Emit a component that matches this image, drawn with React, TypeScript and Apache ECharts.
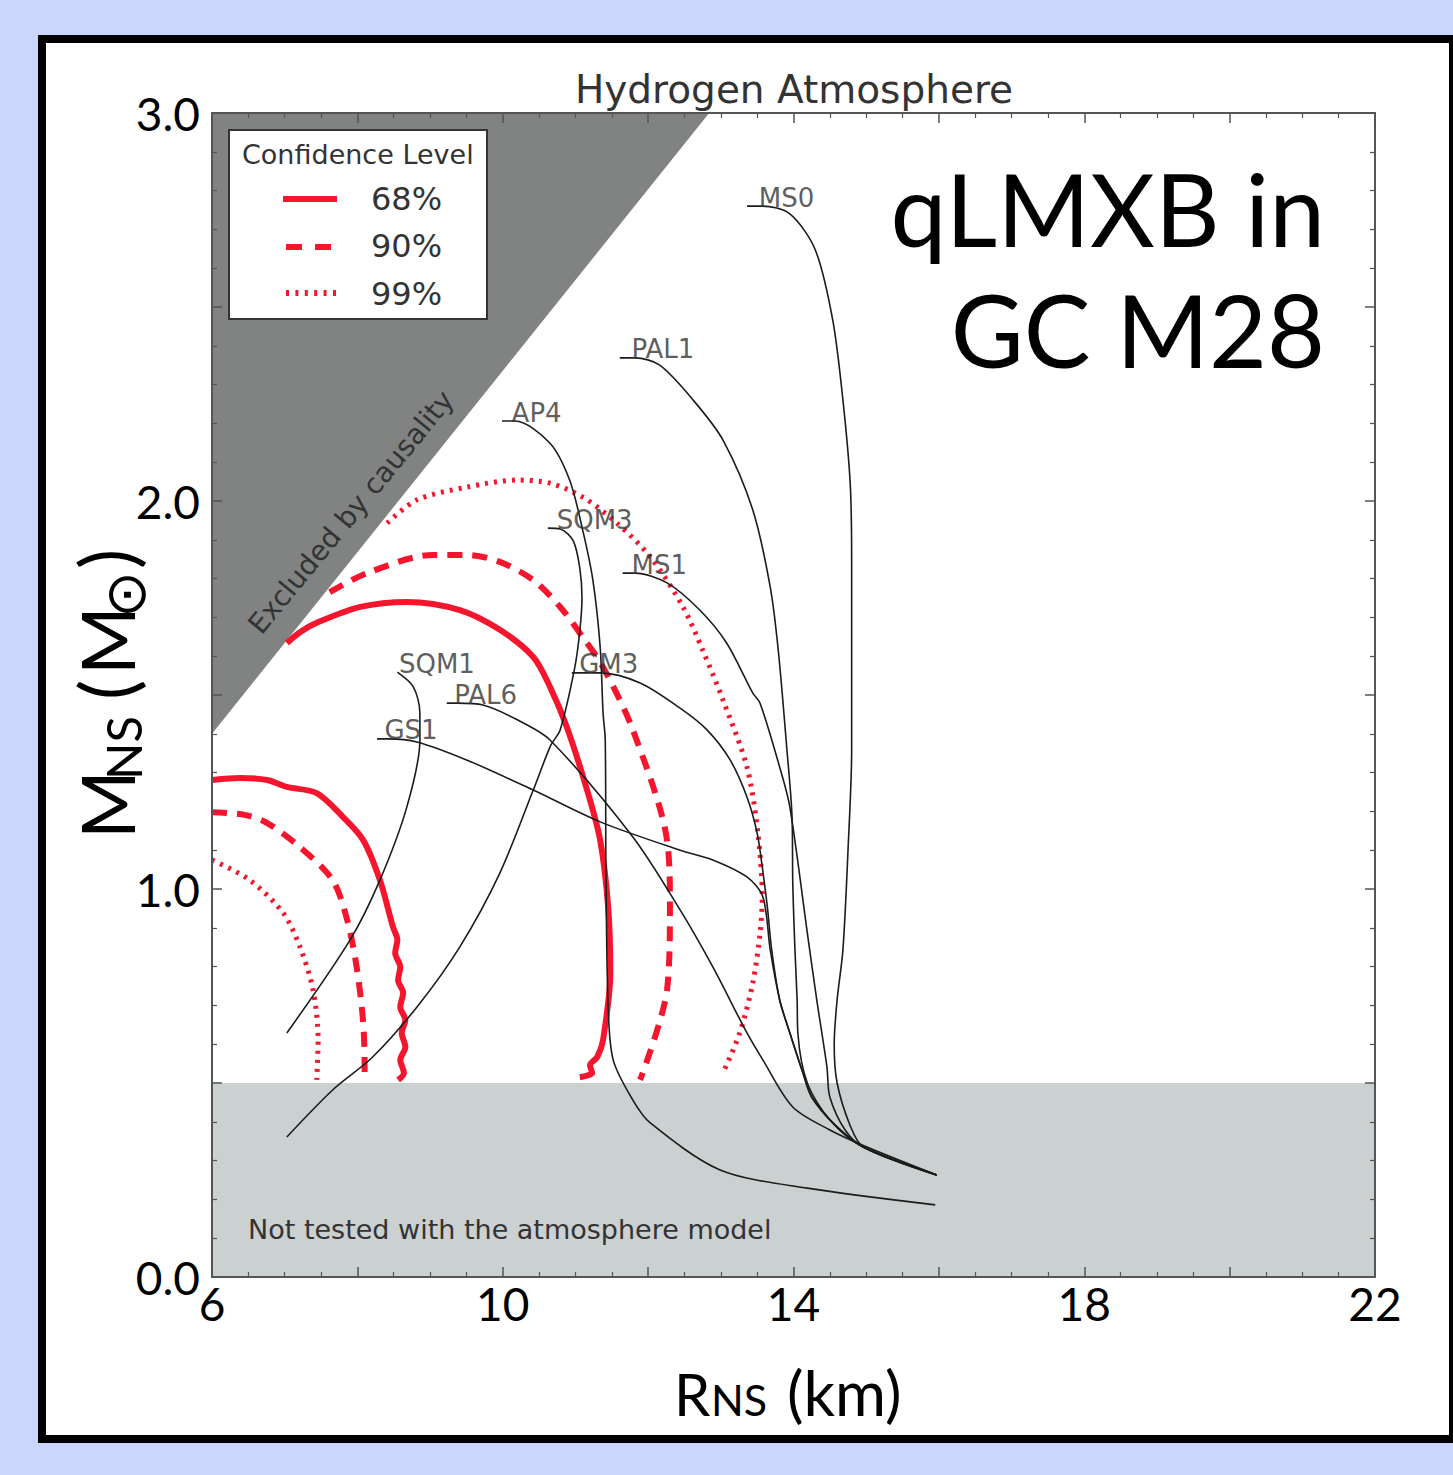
import React, { useEffect, useRef } from "react";
import * as echarts from "echarts";

// ---- axis ticks / labels ----
const xTickLabels = [6, 10, 14, 18, 22];
const yTickLabels = [0, 1, 2, 3];

// ---- shaded regions ----
const causalityLine = [[6.0, 1.4], [12.84, 3.0]];
const untestedBand = [[6, 0.5], [22, 0.5]];

// ---- confidence contours (R km, M Msun) ----
const contour68Low = [[6.0, 1.281], [6.39, 1.286], [6.76, 1.281], [7.03, 1.263], [7.44, 1.247], [7.8, 1.186], [8.08, 1.126], [8.31, 1.023], [8.49, 0.902], [8.55, 0.869], [8.52, 0.835], [8.59, 0.799], [8.56, 0.765], [8.63, 0.732], [8.59, 0.696], [8.66, 0.662], [8.61, 0.629], [8.66, 0.593], [8.59, 0.559], [8.64, 0.526], [8.56, 0.508]];
const contour68High = [[7.03, 1.634], [7.21, 1.662], [7.44, 1.686], [8.04, 1.727], [8.68, 1.74], [9.41, 1.719], [9.96, 1.668], [10.42, 1.598], [10.65, 1.521], [10.88, 1.418], [11.16, 1.255], [11.34, 1.126], [11.45, 0.954], [11.48, 0.784], [11.38, 0.611], [11.3, 0.567], [11.2, 0.546], [11.23, 0.526], [11.06, 0.515]];
const contour90Low = [[6.0, 1.198], [6.45, 1.191], [6.76, 1.17], [7.21, 1.108], [7.66, 1.023], [7.86, 0.92], [7.99, 0.799], [8.08, 0.655], [8.1, 0.526], [8.06, 0.508]];
const contour90High = [[7.62, 1.765], [8.13, 1.814], [9.04, 1.861], [9.51, 1.861], [9.96, 1.843], [10.42, 1.796], [10.79, 1.727], [11.1, 1.649], [11.38, 1.572], [11.79, 1.41], [12.26, 1.126], [12.3, 0.954], [12.26, 0.74], [11.89, 0.508]];
const contour99Low = [[6.0, 1.075], [6.52, 1.023], [6.98, 0.938], [7.21, 0.851], [7.39, 0.74], [7.46, 0.611], [7.44, 0.508]];
const contour99High = [[8.41, 1.943], [8.82, 2.003], [9.51, 2.036], [10.2, 2.054], [10.65, 2.046], [11.1, 2.01], [11.57, 1.943], [12.03, 1.856], [12.48, 1.727], [12.75, 1.616], [13.03, 1.487], [13.36, 1.314], [13.51, 1.144], [13.57, 0.979], [13.54, 0.887], [13.44, 0.758], [13.26, 0.629], [13.03, 0.526]];

// ---- equation-of-state mass-radius curves ----
const eosMS0 = [[13.36, 2.76], [13.57, 2.76], [13.95, 2.74], [14.3, 2.647], [14.54, 2.466], [14.68, 2.26], [14.78, 2.046], [14.8, 1.848], [14.8, 1.616], [14.8, 1.358], [14.75, 1.1], [14.68, 0.843], [14.6, 0.714], [14.56, 0.6], [14.6, 0.5], [14.78, 0.39], [14.96, 0.335], [15.97, 0.263]];
const eosPAL1 = [[11.61, 2.369], [11.82, 2.369], [12.16, 2.35], [12.62, 2.26], [13.03, 2.157], [13.44, 1.977], [13.68, 1.778], [13.79, 1.616], [13.91, 1.358], [13.98, 1.186], [13.99, 1.015], [14.02, 0.843], [14.05, 0.714], [14.06, 0.629], [14.19, 0.5], [14.5, 0.405], [14.96, 0.335], [15.97, 0.263]];
const eosAP4 = [[9.99, 2.206], [10.17, 2.206], [10.65, 2.149], [10.92, 2.054], [11.1, 1.925], [11.24, 1.796], [11.34, 1.624], [11.38, 1.454], [11.41, 1.384], [11.42, 1.041], [11.45, 0.696], [11.52, 0.559], [11.79, 0.456], [12.03, 0.397], [12.99, 0.276], [14.19, 0.229], [15.95, 0.186]];
const eosSQM3 = [[10.62, 1.93], [10.79, 1.928], [10.97, 1.897], [11.06, 1.827], [11.09, 1.75], [11.06, 1.665], [10.99, 1.57], [10.79, 1.41], [10.66, 1.37], [10.42, 1.255], [9.96, 1.041], [9.41, 0.851], [8.82, 0.696], [8.21, 0.567], [7.66, 0.482], [7.03, 0.361]];
const eosMS1 = [[11.65, 1.814], [11.82, 1.814], [12.26, 1.789], [12.71, 1.719], [13.08, 1.634], [13.44, 1.505], [13.54, 1.479], [13.81, 1.314], [13.95, 1.211], [14.19, 0.887], [14.32, 0.714], [14.46, 0.541], [14.5, 0.464], [14.71, 0.379], [14.96, 0.335], [15.97, 0.263]];
const eosGM3 = [[10.95, 1.557], [11.1, 1.557], [11.34, 1.557], [11.89, 1.531], [12.44, 1.466], [12.81, 1.41], [13.13, 1.332], [13.36, 1.237], [13.5, 1.144], [13.57, 1.057], [13.64, 0.954], [13.7, 0.843], [13.81, 0.714], [13.95, 0.629], [14.13, 0.526], [14.25, 0.464], [14.57, 0.392], [14.96, 0.335], [15.97, 0.263]];
const eosSQM1 = [[8.55, 1.559], [8.77, 1.521], [8.86, 1.454], [8.86, 1.384], [8.68, 1.211], [8.31, 1.023], [7.9, 0.869], [7.03, 0.629]];
const eosPAL6 = [[9.23, 1.479], [9.38, 1.479], [9.73, 1.474], [10.2, 1.436], [10.65, 1.384], [11.79, 1.134], [12.44, 0.946], [12.89, 0.799], [13.36, 0.629], [13.58, 0.559], [13.99, 0.438], [14.5, 0.379], [15.01, 0.335], [15.97, 0.263]];
const eosGS1 = [[8.27, 1.387], [8.42, 1.387], [8.82, 1.379], [9.51, 1.332], [10.42, 1.255], [11.34, 1.173], [12.44, 1.1], [12.89, 1.075], [13.36, 1.031], [13.58, 0.979], [13.68, 0.843], [13.81, 0.714], [13.95, 0.629], [14.13, 0.526], [14.25, 0.464], [14.57, 0.392], [14.96, 0.335], [15.97, 0.263]];

const eosNames = ["MS0", "PAL1", "AP4", "SQM3", "MS1", "GM3", "SQM1", "PAL6", "GS1"];
const eosCurves = [eosMS0, eosPAL1, eosAP4, eosSQM3, eosMS1, eosGM3, eosSQM1, eosPAL6, eosGS1];
const eosLabelPoints = [[13.57, 2.76], [11.82, 2.369], [10.17, 2.206], [10.79, 1.93], [11.82, 1.814], [11.1, 1.557], [8.62, 1.559], [9.38, 1.479], [8.42, 1.387]];

const legendTitle = "Confidence Level";
const legendLabels = ["68%", "90%", "99%"];

const RED = "#f5162e";
const DEJAVU = "'DejaVu Sans', sans-serif";
const GILL = "Lato, 'DejaVu Sans', sans-serif";

export default function App() {
  const ref = useRef<HTMLDivElement>(null);
  useEffect(() => {
    const chart = echarts.init(ref.current!, null, { renderer: "svg" });

    const redLine = (name: string, data: number[][], type: any, width: number) => ({
      name, type: "line", data, symbol: "none", smooth: 0.3, silent: true, z: 3,
      lineStyle: { color: RED, width, type, cap: "butt" },
    });

    const txt = (x: number, y: number, text: string, font: string, extra: any = {}) => ({
      type: "text", z: 20, x, y,
      style: { text, font, fill: "#000", align: "left", verticalAlign: "middle", ...extra },
    });

    const option: any = {
      animation: false,
      backgroundColor: "#ccd5fc",
      grid: { left: 212, top: 113, right: 78, bottom: 198 },
      xAxis: [
        {
          type: "value", min: 6, max: 22, interval: 2, position: "bottom", z: 10,
          axisLine: { show: true, onZero: false, lineStyle: { color: "#555", width: 2 } },
          axisTick: { show: true, inside: true, length: 10, lineStyle: { color: "#555", width: 1.5 } },
          minorTick: { show: true, splitNumber: 4, length: 5, lineStyle: { color: "#555", width: 1.2 } },
          splitLine: { show: false },
          axisLabel: {
            margin: 3, fontFamily: GILL, fontSize: 46, color: "#000",
            formatter: (v: number) => (xTickLabels.includes(v) ? String(v) : ""),
          },
        },
        {
          type: "value", min: 6, max: 22, interval: 2, position: "top", z: 10,
          axisLine: { show: true, onZero: false, lineStyle: { color: "#555", width: 2 } },
          axisTick: { show: true, inside: true, length: 10, lineStyle: { color: "#555", width: 1.5 } },
          minorTick: { show: true, splitNumber: 4, length: 5, lineStyle: { color: "#555", width: 1.2 } },
          splitLine: { show: false }, axisLabel: { show: false },
        },
      ],
      yAxis: [
        {
          type: "value", min: 0, max: 3, interval: 0.5, position: "left", z: 10,
          axisLine: { show: true, onZero: false, lineStyle: { color: "#555", width: 2 } },
          axisTick: { show: true, inside: true, length: 10, lineStyle: { color: "#555", width: 1.5 } },
          minorTick: { show: true, splitNumber: 5, length: 5, lineStyle: { color: "#555", width: 1.2 } },
          splitLine: { show: false },
          axisLabel: {
            margin: 12, fontFamily: GILL, fontSize: 46, color: "#000",
            formatter: (v: number) => (yTickLabels.includes(v) ? v.toFixed(1) : ""),
          },
        },
        {
          type: "value", min: 0, max: 3, interval: 0.5, position: "right", z: 10,
          axisLine: { show: true, onZero: false, lineStyle: { color: "#555", width: 2 } },
          axisTick: { show: true, inside: true, length: 10, lineStyle: { color: "#555", width: 1.5 } },
          minorTick: { show: true, splitNumber: 5, length: 5, lineStyle: { color: "#555", width: 1.2 } },
          splitLine: { show: false }, axisLabel: { show: false },
        },
      ],
      series: [
        {
          name: "causality", type: "line", data: causalityLine, symbol: "none", silent: true, z: 1,
          lineStyle: { width: 0 }, areaStyle: { color: "#808382", opacity: 1, origin: "end" },
        },
        {
          name: "untested", type: "line", data: untestedBand, symbol: "none", silent: true, z: 1,
          lineStyle: { width: 0 }, areaStyle: { color: "#cbd0d1", opacity: 1, origin: "start" },
        },
        redLine("68% a", contour68Low, "solid", 6),
        redLine("68% b", contour68High, "solid", 6),
        redLine("90% a", contour90Low, [15, 10], 6),
        redLine("90% b", contour90High, [15, 10], 6),
        redLine("99% a", contour99Low, [3, 6], 5),
        redLine("99% b", contour99High, [3, 6], 5),
        ...eosCurves.map((d, i) => ({
          name: eosNames[i], type: "line", data: d, symbol: "none", smooth: 0.3, silent: true, z: 5,
          lineStyle: { color: "#1c1c1c", width: 1.6 },
        })),
        {
          name: "labels", type: "scatter", silent: true, z: 6, symbolSize: 1,
          itemStyle: { color: "transparent" },
          data: eosLabelPoints.map((p, i) => [p[0], p[1], eosNames[i]]),
          label: {
            show: true, formatter: (p: any) => p.value[2], position: [-3, -8],
            align: "left", verticalAlign: "middle",
            fontFamily: DEJAVU, fontSize: 26, color: "#333",
          },
        },
      ],
      graphic: [
        // slide frame
        { type: "rect", z: 0, shape: { x: 38, y: 35, width: 1415, height: 1408 }, style: { fill: "#000" } },
        { type: "rect", z: 0, shape: { x: 46, y: 43, width: 1403, height: 1392 }, style: { fill: "#fff" } },
        // title
        txt(794, 89, "Hydrogen Atmosphere", `39px ${DEJAVU}`, { fill: "#333", align: "center" }),
        // big annotation
        txt(1325, 208, "qLMXB in", `100px ${GILL}`, { align: "right" }),
        txt(1325, 329, "GC M28", `100px ${GILL}`, { align: "right" }),
        // region notes
        { type: "text", z: 20, x: 351, y: 512, rotation: (50.5 * Math.PI) / 180, style: { text: "Excluded by causality", font: `28px ${DEJAVU}`, fill: "#333", align: "center", verticalAlign: "middle" } },
        txt(248, 1229, "Not tested with the atmosphere model", `27px ${DEJAVU}`, { fill: "#333" }),
        // legend
        { type: "rect", z: 20, shape: { x: 229, y: 130, width: 258, height: 189 }, style: { fill: "#fff", stroke: "#333", lineWidth: 2 } },
        { type: "text", z: 21, x: 242, y: 154, style: { text: legendTitle, font: `27px ${DEJAVU}`, fill: "#333", align: "left", verticalAlign: "middle" } },
        { type: "line", z: 21, shape: { x1: 283, y1: 199, x2: 337, y2: 199 }, style: { stroke: RED, lineWidth: 6 } },
        { type: "line", z: 21, shape: { x1: 286, y1: 247, x2: 337, y2: 247 }, style: { stroke: RED, lineWidth: 6, lineDash: [16, 13] } },
        { type: "line", z: 21, shape: { x1: 286, y1: 293, x2: 337, y2: 293 }, style: { stroke: RED, lineWidth: 6, lineDash: [3, 6.4] } },
        ...legendLabels.map((t, i) => ({
          type: "text", z: 21, x: 371, y: 199 + i * 47.3,
          style: { text: t, font: `32px ${DEJAVU}`, fill: "#333", align: "left", verticalAlign: "middle" },
        })),
        // x axis title
        txt(674, 1393, "R", `58px ${GILL}`),
        txt(711, 1399, "NS", `43px ${GILL}`),
        txt(787, 1392, "(km)", `62px ${GILL}`),
        // y axis title (rotated)
        {
          type: "group", z: 20, x: 135, y: 690, rotation: Math.PI / 2,
          children: [
            txt(-149, -29, "M", `74px ${GILL}`),
            txt(-90, -12, "NS", `49px ${GILL}`),
            txt(-10, -30, "(", `76px ${GILL}`),
            txt(15, -29, "M", `74px ${GILL}`),
            txt(72, -10, "⊙", `56px ${DEJAVU}`),
            txt(121, -30, ")", `76px ${GILL}`),
          ],
        },
      ],
    };
    chart.setOption(option);
    return () => chart.dispose();
  }, []);
  return <div ref={ref} style={{ position: "absolute", left: 0, top: 0, width: 1453, height: 1475 }} />;
}
